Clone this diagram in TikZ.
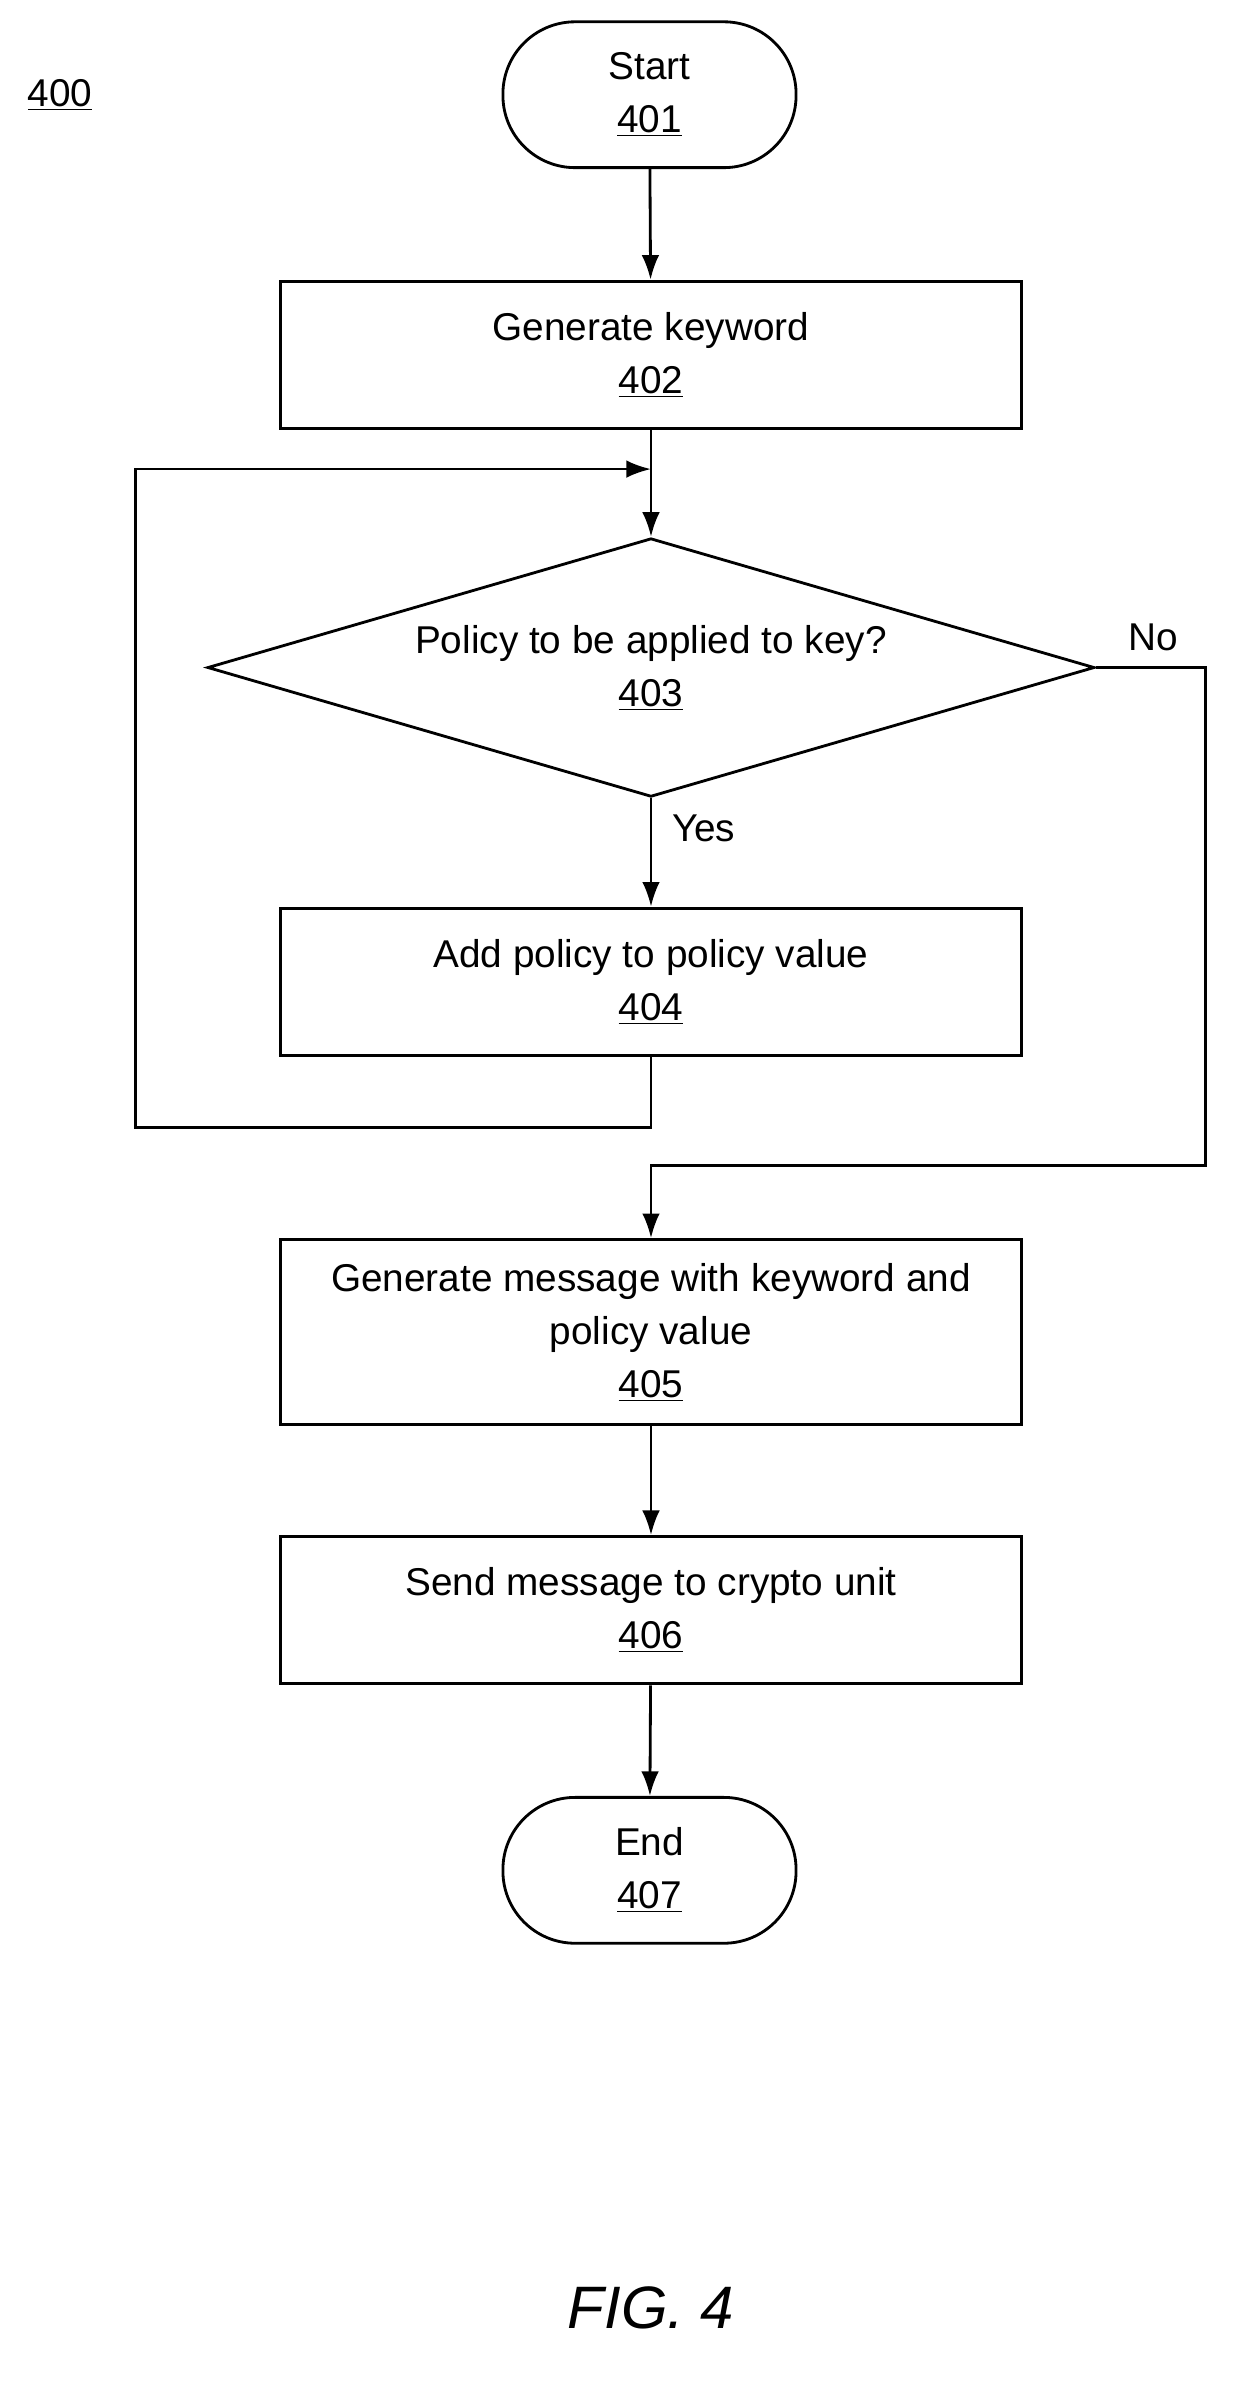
\documentclass[tikz,border=0pt]{standalone}
\usepackage{fontspec}
\setmainfont{Liberation Sans}
\usetikzlibrary{shapes.geometric,arrows.meta}
\begin{document}
\begin{tikzpicture}[x=0.03cm,y=-0.03cm,
  every node/.style={font=\fontsize{22}{30}\selectfont, align=center},
  box/.style={draw, line width=1.6pt, minimum width=493*0.03cm, minimum height=98*0.03cm, inner sep=0pt},
  term/.style={draw, line width=1.6pt, rounded corners=48*0.03cm, minimum width=195*0.03cm, minimum height=97*0.03cm, inner sep=0pt},
  dia/.style={draw, line width=1.6pt, diamond, minimum width=590*0.03cm, minimum height=172*0.03cm, aspect=3.43, inner sep=0pt},
  arr/.style={line width=1.6pt, -{Latex[length=14pt,width=10pt]}},
  ln/.style={line width=1.6pt}]
\useasboundingbox (0,0) rectangle (830,1591);
\node (lbl) at (40,63) {\underline{400}};
\node[term] (s) at (432,63) {Start\\\underline{401}};
\node[box] (b2) at (433,236) {Generate keyword\\\underline{402}};
\node[dia] (d) at (433,444) {Policy to be applied to key?\\\underline{403}};
\node[box] (b4) at (433,653) {Add policy to policy value\\\underline{404}};
\node[box, minimum height=123*0.03cm] (b5) at (433,886) {Generate message with keyword and\\policy value\\\underline{405}};
\node[box] (b6) at (433,1071) {Send message to crypto unit\\\underline{406}};
\node[term] (e) at (432,1244) {End\\\underline{407}};
\node (yes) at (468,551) {Yes};
\node (no) at (767,424) {No};
\node (fig) at (433,1535) {\fontsize{34}{40}\selectfont\itshape FIG. 4};
\coordinate (m) at (433,312);
\draw[arr] (s) -- (b2);
\draw[arr] (b2) -- (d);
\draw[arr] (d) -- (b4);
\draw[arr] (b4.south) -- (433,750) -- (90,750) -- (90,312) -- (m);
\draw[arr] (d.east) -- (802,444) -- (802,775) -- (433,775) -- (b5.north);
\draw[arr] (b5) -- (b6);
\draw[arr] (b6) -- (e);
\end{tikzpicture}
\end{document}
